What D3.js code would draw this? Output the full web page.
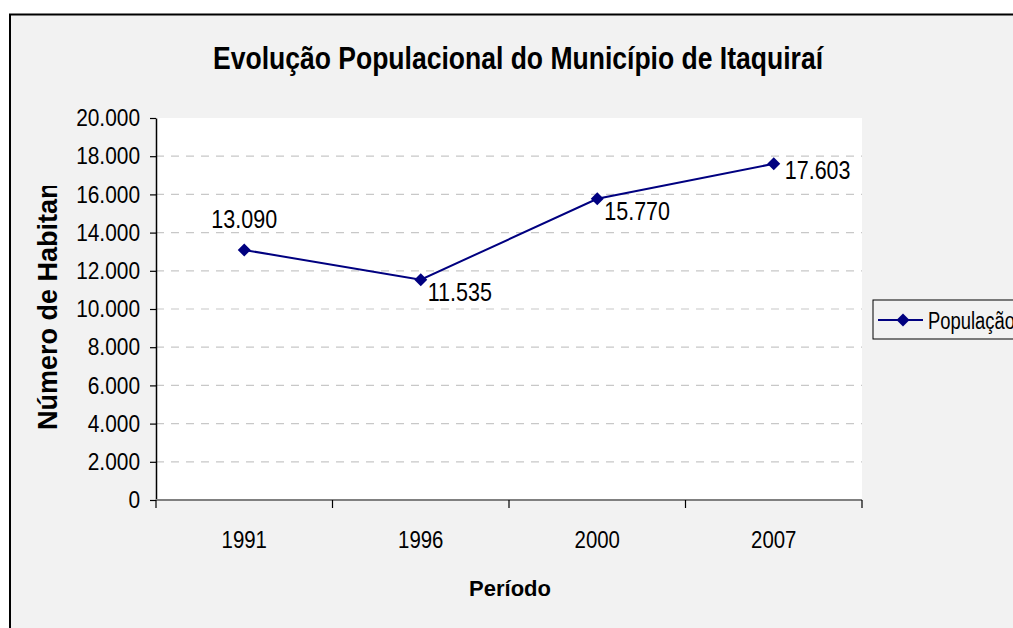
<!DOCTYPE html>
<html>
<head>
<meta charset="utf-8">
<script src="https://cdn.jsdelivr.net/npm/d3@7"></script>
<style>
	body { margin: 0; background: #fff; }
	svg { display: block; }
	text { font-family: "Liberation Sans", Arial, sans-serif; fill: #000; }
</style>
</head>
<body>
<div id="chart"></div>
<script>
const periods = ['1991', '1996', '2000', '2007'];
const population = [13090, 11535, 15770, 17603];
const yTicks = [0, 2000, 4000, 6000, 8000, 10000, 12000, 14000, 16000, 18000, 20000];
const labelPlacement = ['above', 'belowRight', 'belowRight', 'right'];
const seriesName = 'População';
const chartTitle = 'Evolução Populacional do Município de Itaquiraí';
const xTitle = 'Período';
const yTitle = 'Número de Habitantes';

// pt-BR number format: 20.000
const ptBR = d3.formatLocale({ decimal: ',', thousands: '.', grouping: [3], currency: ['R$', ''] });
const fmt = ptBR.format(',d');

// squeeze text horizontally like the narrow rendering in the original
function condense(sel, f) {
	sel.each(function() {
		const w = this.getComputedTextLength();
		d3.select(this).attr('textLength', w * f).attr('lengthAdjust', 'spacingAndGlyphs');
	});
}

const width = 1013,
	height = 628,
	plot = { left: 156, right: 862, top: 118, bottom: 500 };

const svg = d3.select('#chart').append('svg')
	.attr('width', width)
	.attr('height', height);

// chart frame (runs off the right and bottom edges)
svg.append('rect')
	.attr('x', 10).attr('y', 14.5)
	.attr('width', 1100).attr('height', 700)
	.attr('fill', '#f2f2f2')
	.attr('stroke', '#000')
	.attr('stroke-width', 2);

svg.append('rect')
	.attr('x', plot.left).attr('y', plot.top)
	.attr('width', plot.right - plot.left)
	.attr('height', plot.bottom - plot.top)
	.attr('fill', '#fff');

const x = d3.scaleBand().domain(periods).range([plot.left, plot.right]);
const y = d3.scaleLinear().domain([0, 20000]).range([plot.bottom, plot.top]);
const data = periods.map((p, i) => ({ period: p, value: population[i], place: labelPlacement[i] }));
const cx = d => x(d.period) + x.bandwidth() / 2;

// dashed gridlines
svg.append('g')
	.selectAll('line')
	.data(yTicks.filter(t => t > 0 && t < 20000))
	.join('line')
	.attr('x1', plot.left).attr('x2', plot.right)
	.attr('y1', d => y(d)).attr('y2', d => y(d))
	.attr('stroke', '#c8c8c8')
	.attr('stroke-width', 1.2)
	.attr('stroke-dasharray', '8,7');

// y axis
const yAxis = svg.append('g')
	.attr('transform', `translate(${plot.left},0)`)
	.call(d3.axisLeft(y).tickValues(yTicks).tickSize(6).tickSizeOuter(0).tickPadding(10).tickFormat(fmt));
yAxis.select('.domain').attr('stroke', '#000').attr('stroke-width', 1.5);
yAxis.selectAll('.tick line').attr('stroke', '#000').attr('stroke-width', 1.2);
yAxis.selectAll('.tick text')
	.attr('font-size', 24)
	.attr('font-family', '"Liberation Sans", Arial, sans-serif')
	.attr('fill', '#000')
	.call(condense, 0.87);

// x axis: line, boundary ticks, centred labels
svg.append('line')
	.attr('x1', plot.left).attr('x2', plot.right)
	.attr('y1', y(0)).attr('y2', y(0))
	.attr('stroke', '#808080')
	.attr('stroke-width', 2);

svg.append('g')
	.selectAll('line')
	.data(periods.map(p => x(p)).concat([x.range()[1]]))
	.join('line')
	.attr('x1', d => d).attr('x2', d => d)
	.attr('y1', y(0)).attr('y2', y(0) + 8)
	.attr('stroke', '#000')
	.attr('stroke-width', 1.2);

svg.append('g')
	.selectAll('text')
	.data(periods)
	.join('text')
	.attr('x', d => x(d) + x.bandwidth() / 2)
	.attr('y', 548)
	.attr('text-anchor', 'middle')
	.attr('font-size', 24)
	.text(d => d)
	.call(condense, 0.85);

// series line + diamond markers
const line = d3.line().x(cx).y(d => y(d.value));
svg.append('path')
	.datum(data)
	.attr('d', line)
	.attr('fill', 'none')
	.attr('stroke', '#000080')
	.attr('stroke-width', 2);

svg.append('g')
	.selectAll('path')
	.data(data)
	.join('path')
	.attr('d', d3.symbol(d3.symbolSquare, 85))
	.attr('transform', d => `translate(${cx(d)},${y(d.value)}) rotate(45)`)
	.attr('fill', '#000080');

// data labels
svg.append('g')
	.selectAll('text')
	.data(data)
	.join('text')
	.attr('x', d => d.place === 'above' ? cx(d) : d.place === 'right' ? cx(d) + 11 : cx(d) + 7)
	.attr('y', d => d.place === 'above' ? y(d.value) - 22 : d.place === 'right' ? y(d.value) + 15 : y(d.value) + 21)
	.attr('text-anchor', d => d.place === 'above' ? 'middle' : 'start')
	.attr('font-size', 25)
	.text(d => fmt(d.value))
	.call(condense, 0.86);

// titles
svg.append('text')
	.attr('x', 518).attr('y', 69)
	.attr('text-anchor', 'middle')
	.attr('font-size', 31)
	.attr('font-weight', 'bold')
	.attr('textLength', 610)
	.attr('lengthAdjust', 'spacingAndGlyphs')
	.text(chartTitle);

svg.append('text')
	.attr('x', 510).attr('y', 596)
	.attr('text-anchor', 'middle')
	.attr('font-size', 22)
	.attr('font-weight', 'bold')
	.text(xTitle);

svg.append('clipPath').attr('id', 'ytitle-clip')
	.append('rect').attr('x', 0).attr('y', 186).attr('width', 150).attr('height', 400);

svg.append('g')
	.attr('clip-path', 'url(#ytitle-clip)')
	.append('text')
	.attr('transform', 'translate(57,430) rotate(-90)')
	.attr('font-size', 27)
	.attr('font-weight', 'bold')
	.text(yTitle);

// legend
const legend = svg.append('g').attr('transform', 'translate(873,300)');
legend.append('rect')
	.attr('width', 200).attr('height', 39)
	.attr('fill', '#f2f2f2')
	.attr('stroke', '#000')
	.attr('stroke-width', 1);
legend.append('line')
	.attr('x1', 5).attr('x2', 50)
	.attr('y1', 20).attr('y2', 20)
	.attr('stroke', '#000080')
	.attr('stroke-width', 2);
legend.append('path')
	.attr('d', d3.symbol(d3.symbolSquare, 85))
	.attr('transform', 'translate(30,20) rotate(45)')
	.attr('fill', '#000080');
legend.append('text')
	.attr('x', 55).attr('y', 29)
	.attr('font-size', 23)
	.text(seriesName)
	.call(condense, 0.8);
</script>
</body>
</html>
